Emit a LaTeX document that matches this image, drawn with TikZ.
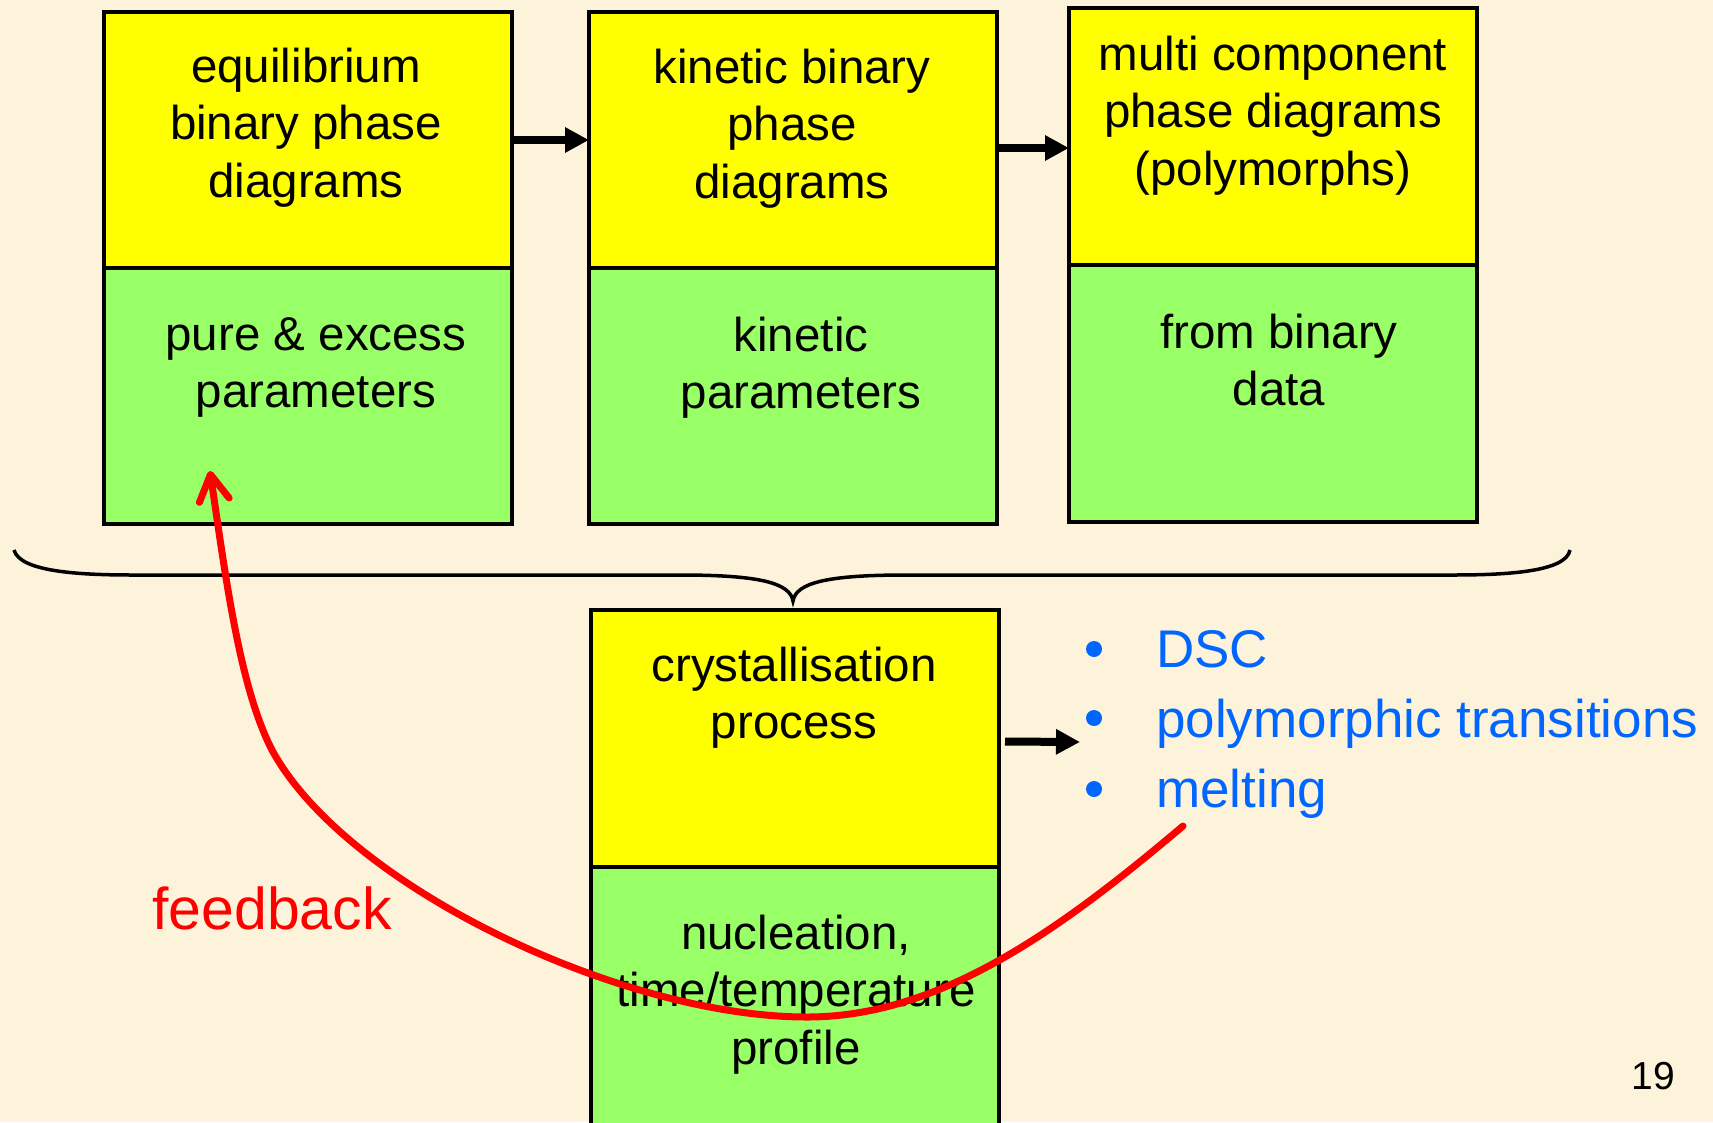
\documentclass[tikz,border=0pt]{standalone}
\usepackage{fontspec}
\setmainfont{Liberation Sans}
\usetikzlibrary{arrows.meta}
\definecolor{bgcream}{RGB}{253,242,218}
\definecolor{boxyellow}{RGB}{255,255,0}
\definecolor{boxgreen}{RGB}{153,255,102}
\definecolor{bulletblue}{RGB}{0,102,255}
\definecolor{fbred}{RGB}{255,0,0}
\begin{document}
\begin{tikzpicture}[x=1pt,y=-1pt,
  halfbox/.style={draw=black, line width=4pt, minimum width=408pt, anchor=north west, inner sep=0pt, outer sep=0pt},
  ybox/.style={halfbox, fill=boxyellow},
  gbox/.style={halfbox, fill=boxgreen},
  boxtext/.style={anchor=base, inner sep=0pt, font=\fontsize{47.5}{57.5}\selectfont},
  bluetext/.style={anchor=base west, inner sep=0pt, text=bulletblue, font=\fontsize{53}{60}\selectfont},
  bulletdot/.style={circle, fill=bulletblue, minimum size=16pt, inner sep=0pt},
  blackarrow/.style={draw=black, line width=8pt, -{Triangle[length=24pt,width=24pt]}},
  bracestyle/.style={draw=black, line width=3.5pt},
  feedbackline/.style={draw=fbred, line width=7pt, line cap=round, -{Straight Barb[length=26pt,width=30pt,round]}}
]
\useasboundingbox (0,0) rectangle (1713,1122);
\clip (0,0) rectangle (1713,1122);
\fill[bgcream] (0,0) rectangle (1713,1122);

% boxes
\node[gbox, minimum height=256pt] (b1g) at (104,268) {};
\node[ybox, minimum height=256pt] (b1y) at (104,12) {};
\node[gbox, minimum height=256pt] (b2g) at (589,268) {};
\node[ybox, minimum height=256pt] (b2y) at (589,12) {};
\node[gbox, minimum height=257pt] (b3g) at (1069,265) {};
\node[ybox, minimum height=257pt] (b3y) at (1069,8) {};
\node[gbox, minimum height=290pt] (b4g) at (591,867) {};
\node[ybox, minimum height=257pt] (b4y) at (591,610) {};

% box texts
\node[boxtext] (t1y) at (306,82) {\begin{tabular}[t]{@{}c@{}}equilibrium\\binary phase\\diagrams\end{tabular}};
\node[boxtext] (t1g) at (316,350) {\begin{tabular}[t]{@{}c@{}}pure \& excess\\parameters\end{tabular}};
\node[boxtext] (t2y) at (792,83) {\begin{tabular}[t]{@{}c@{}}kinetic binary\\phase\\diagrams\end{tabular}};
\node[boxtext] (t2g) at (801,351) {\begin{tabular}[t]{@{}c@{}}kinetic\\parameters\end{tabular}};
\node[boxtext] (t3y) at (1273,70) {\begin{tabular}[t]{@{}c@{}}multi component\\phase diagrams\\(polymorphs)\end{tabular}};
\node[boxtext] (t3g) at (1279,348) {\begin{tabular}[t]{@{}c@{}}from binary\\data\end{tabular}};
\node[boxtext] (t4y) at (794,681) {\begin{tabular}[t]{@{}c@{}}crystallisation\\process\end{tabular}};
\node[boxtext] (t4g) at (796,949) {\begin{tabular}[t]{@{}c@{}}nucleation,\\time/temperature\\profile\end{tabular}};

% arrows between boxes
\draw[blackarrow] (b1y.east) -- (b2y.west);
\coordinate (a2s) at ([yshift=-8pt]b2y.east);
\draw[blackarrow] (a2s) -- (a2s -| b3y.west);
\coordinate (a3s) at ([xshift=6pt,yshift=-3pt]b4y.east);
\coordinate (a3e) at (1080,742);
\draw[blackarrow] (a3s) -- (a3e);

% brace
\draw[bracestyle] (14,550) .. controls (20,572) and (80,575) .. (134,575)
  -- (680,575) .. controls (760,575) and (790,583) .. (793,601)
  .. controls (796,583) and (826,575) .. (906,575)
  -- (1452,575) .. controls (1506,575) and (1566,572) .. (1570,550);

% bullets
\node[bulletdot] (d1) at (1094,649) {};
\node[bulletdot] (d2) at (1094,718) {};
\node[bulletdot] (d3) at (1094,789) {};
\node[bluetext] (l1) at (1156,667) {DSC};
\node[bluetext] (l2) at (1156,737) {polymorphic transitions};
\node[bluetext] (l3) at (1156,807) {melting};

% feedback
\node[anchor=base west, inner sep=0pt, text=fbred, font=\fontsize{59}{62}\selectfont] (fb) at (152,929) {feedback};
\coordinate (fbstart) at (1183,826);
\coordinate (fbbottom) at (807,1017);
\coordinate (fbbend) at (272,750);
\coordinate (fbtip) at (210,471);
\draw[feedbackline] (fbstart) .. controls (1060,930) and (940,1017) .. (fbbottom)
  .. controls (620,1017) and (345,885) .. (fbbend)
  .. controls (240,688) and (226,580) .. (fbtip);

% page number
\node[anchor=base, inner sep=0pt, font=\fontsize{39}{45}\selectfont] (pg) at (1653,1089) {19};
\end{tikzpicture}
\end{document}
